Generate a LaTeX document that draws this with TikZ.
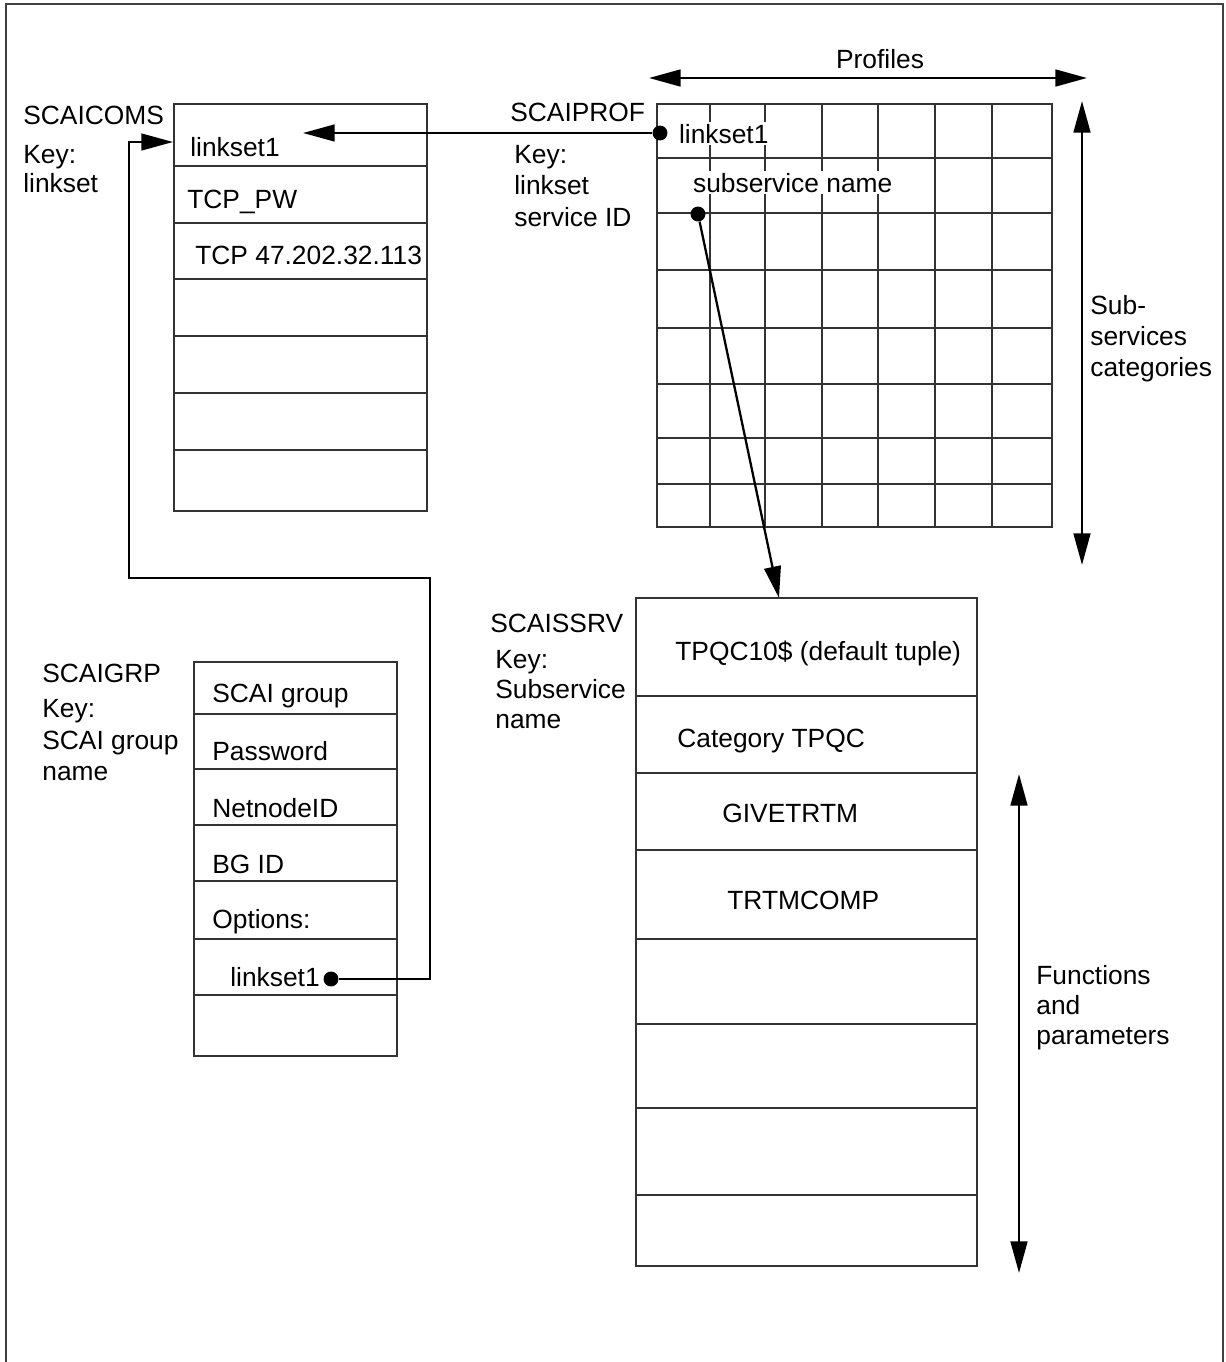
\documentclass[tikz,border=0pt]{standalone}
\usepackage{fontspec}
\setmainfont{Liberation Sans}
\usetikzlibrary{arrows.meta}
\begin{document}
\begin{tikzpicture}[x=0.02cm,y=-0.02cm,
  font=\fontsize{15}{17}\selectfont,
  lbl/.style={anchor=base west, inner sep=0pt},
  wlbl/.style={anchor=base west, inner sep=1pt, fill=white},
  tbl/.style={draw=black!80, line width=0.7pt},
  conn/.style={line width=1.3pt, draw=black},
  bigarr/.style={line width=1.5pt, draw=black},
  tip/.style={-{Triangle[length=18pt,width=9.5pt]}},
  dtip/.style={{Triangle[length=18pt,width=9.5pt]}-{Triangle[length=18pt,width=9.5pt]}},
  dotnode/.style={circle, fill=black, inner sep=0pt, minimum size=8.5pt}
]
\useasboundingbox (0,0) rectangle (1225,1362);
% frame (open at bottom)
\draw[line width=1.2pt, black!75] (6,1362) -- (6,4) -- (1223,4) -- (1223,1362);

% ---------- SCAICOMS ----------
\draw[tbl] (174,104) rectangle (427,511);
\foreach \yy in {166,223,279,336,393,450} \draw[tbl] (174,\yy) -- (427,\yy);
\node[lbl] (comsT) at (23,125) {SCAICOMS};
\node[lbl] (comsK) at (23,163) {Key:};
\node[lbl] (comsK2) at (23,192) {linkset};
\node[lbl] (comsR1) at (190,156) {linkset1};
\node[lbl] (comsR2) at (187,208) {TCP\_PW};
\node[lbl] (comsR3) at (195,264) {TCP 47.202.32.113};

% ---------- SCAIPROF ----------
\draw[tbl] (657,104) rectangle (1052,527);
\foreach \xx in {710,765,822,878,935,992} \draw[tbl] (\xx,104) -- (\xx,527);
\foreach \yy in {158,213,270,328,384,438,484} \draw[tbl] (657,\yy) -- (1052,\yy);
\node[lbl] (profT) at (510,122) {SCAIPROF};
\node[lbl] (profK) at (514,163) {Key:};
\node[lbl] (profK2) at (514,194) {linkset};
\node[lbl] (profK3) at (514,226) {service ID};
\node[wlbl] (profR1) at (677,143) {linkset1};
\node[wlbl] (profR2) at (691,192) {subservice name};

% ---------- SCAIGRP ----------
\draw[tbl] (194,662) rectangle (397,1056);
\foreach \yy in {714,769,825,881,939,995} \draw[tbl] (194,\yy) -- (397,\yy);
\node[lbl] (grpT) at (42,682) {SCAIGRP};
\node[lbl] (grpK) at (42,717) {Key:};
\node[lbl] (grpK2) at (42,749) {SCAI group};
\node[lbl] (grpK3) at (42,780) {name};
\node[lbl] (grpR1) at (212,702) {SCAI group};
\node[lbl] (grpR2) at (212,760) {Password};
\node[lbl] (grpR3) at (212,817) {NetnodeID};
\node[lbl] (grpR4) at (212,873) {BG ID};
\node[lbl] (grpR5) at (212,928) {Options:};
\node[lbl] (grpR6) at (230,986) {linkset1};

% ---------- SCAISSRV ----------
\draw[tbl] (636,598) rectangle (977,1266);
\foreach \yy in {696,773,850,939,1024,1108,1195} \draw[tbl] (636,\yy) -- (977,\yy);
\node[lbl] (ssrvT) at (490,632) {SCAISSRV};
\node[lbl] (ssrvK) at (495,668) {Key:};
\node[lbl] (ssrvK2) at (495,698) {Subservice};
\node[lbl] (ssrvK3) at (495,728) {name};
\node[lbl] (ssrvR1) at (675,660) {TPQC10\$ (default tuple)};
\node[lbl] (ssrvR2) at (677,747) {Category TPQC};
\node[lbl] (ssrvR3) at (722,822) {GIVETRTM};
\node[lbl] (ssrvR4) at (727,909) {TRTMCOMP};

% ---------- dimension arrows ----------
\coordinate (profL) at (649,78);
\coordinate (profRr) at (1087,78);
\draw[bigarr,dtip] (profL) -- (profRr);
\node[anchor=base, inner sep=0pt] (profLbl) at (880,69) {Profiles};

\coordinate (subTop) at (1082,101);
\coordinate (subBot) at (1082,565);
\draw[bigarr,dtip] (subTop) -- (subBot);
\node[lbl] (subL1) at (1090,314) {Sub-};
\node[lbl] (subL2) at (1090,345) {services};
\node[lbl] (subL3) at (1090,376) {categories};

\coordinate (fnTop) at (1019,774);
\coordinate (fnBot) at (1019,1273);
\draw[bigarr,dtip] (fnTop) -- (fnBot);
\node[lbl] (fnL1) at (1036,984) {Functions};
\node[lbl] (fnL2) at (1036,1014) {and};
\node[lbl] (fnL3) at (1036,1044) {parameters};

% ---------- connectors ----------
\node[dotnode] (profDot) at (660,133) {};
\coordinate (comsIn) at (303,133);
\draw[conn,tip] (profDot) -- (comsIn);

\node[dotnode] (subDot) at (698,214) {};
\coordinate (ssrvIn) at (779,598);
\draw[conn,tip] (subDot) -- (ssrvIn);

\node[dotnode] (grpDot) at (331,979) {};
\coordinate (cornerA) at (430,578);
\coordinate (cornerB) at (129,578);
\coordinate (comsLeft) at (173,142);
\draw[conn,tip] (grpDot) -| (cornerA) -- (cornerB) |- (comsLeft);
\end{tikzpicture}
\end{document}
